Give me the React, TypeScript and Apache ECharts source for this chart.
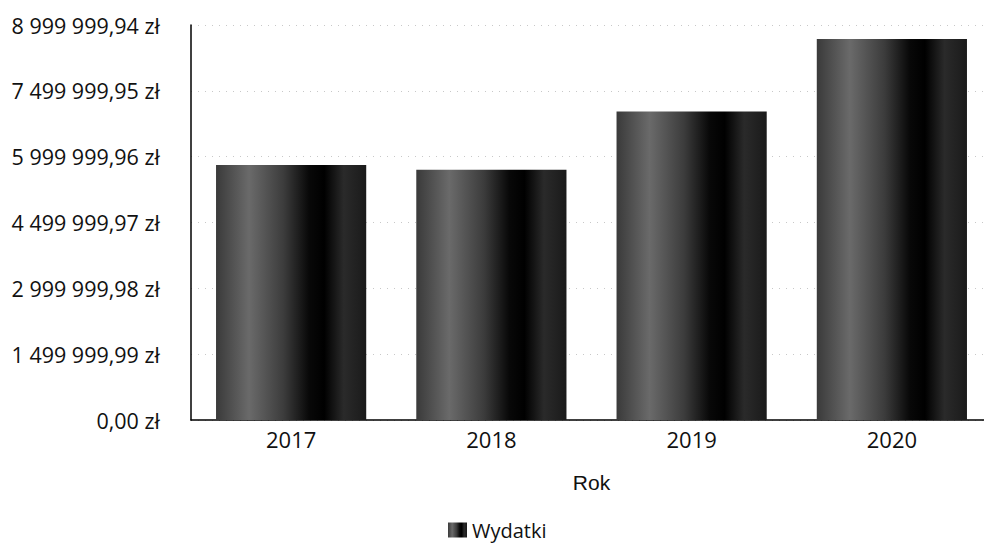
import React, { useEffect, useRef } from "react";
import * as echarts from "echarts";

const categories = ["2017", "2018", "2019", "2020"];
const wydatki = [5810000, 5700000, 7030000, 8680000];
const seriesName = "Wydatki";
const xAxisName = "Rok";
const yMax = 8999999.94;
const yInterval = 1499999.99;

function formatPLN(v: number): string {
  const fixed = v.toFixed(2);
  const [intPart, dec] = fixed.split(".");
  const withSpaces = intPart.replace(/\B(?=(\d{3})+(?!\d))/g, " ");
  return `${withSpaces},${dec} zł`;
}

const FONT = "'Open Sans', 'Noto Sans', sans-serif";

export default function App() {
  const ref = useRef<HTMLDivElement>(null);
  useEffect(() => {
    if (!ref.current) return;
    const chart = echarts.init(ref.current, undefined, { renderer: "svg" });
    const barGradient = new echarts.graphic.LinearGradient(0, 0, 1, 0, [
      { offset: 0, color: "#3a3a3a" },
      { offset: 0.22, color: "#6a6a6a" },
      { offset: 0.45, color: "#3c3c3c" },
      { offset: 0.62, color: "#080808" },
      { offset: 0.72, color: "#000000" },
      { offset: 0.85, color: "#2a2a2a" },
      { offset: 1, color: "#1a1a1a" },
    ]);
    chart.setOption({
      animation: false,
      backgroundColor: "#ffffff",
      textStyle: { fontFamily: FONT },
      grid: {
        left: 191,
        width: 801,
        top: 25,
        bottom: 124,
        containLabel: false,
        outerBoundsMode: "none",
      },
      legend: {
        data: [seriesName],
        left: 448,
        top: 519,
        padding: 0,
        itemWidth: 19,
        itemHeight: 15,
        itemGap: 8,
        icon: "rect",
        textStyle: { fontSize: 20, lineHeight: 22, color: "#111", fontFamily: FONT },
      },
      xAxis: {
        type: "category",
        data: categories,
        name: xAxisName,
        nameLocation: "middle",
        nameGap: 52,
        nameTextStyle: { fontSize: 21, color: "#111", fontFamily: "'Liberation Sans', Arial, sans-serif" },
        axisLine: { show: true, lineStyle: { color: "#000", width: 1.5 } },
        axisTick: { show: false },
        axisLabel: { fontSize: 22, color: "#111", margin: 8, fontFamily: FONT },
      },
      yAxis: {
        type: "value",
        min: 0,
        max: yMax,
        interval: yInterval,
        axisLine: { show: true, lineStyle: { color: "#000", width: 1.5 } },
        axisTick: { show: false },
        splitLine: { show: true, lineStyle: { color: "#c8c8c8", type: [1, 6], width: 1 } },
        axisLabel: {
          fontSize: 21.5,
          color: "#111",
          margin: 31,
          fontFamily: FONT,
          formatter: (v: number) => formatPLN(v),
        },
      },
      series: [
        {
          name: seriesName,
          type: "bar",
          data: wydatki,
          barCategoryGap: "25%",
          itemStyle: { color: barGradient },
        },
      ],
    });
    return () => chart.dispose();
  }, []);
  return (
    <div
      ref={ref}
      style={{ position: "fixed", left: 0, top: 0, width: 984, height: 544, background: "#fff" }}
    />
  );
}
